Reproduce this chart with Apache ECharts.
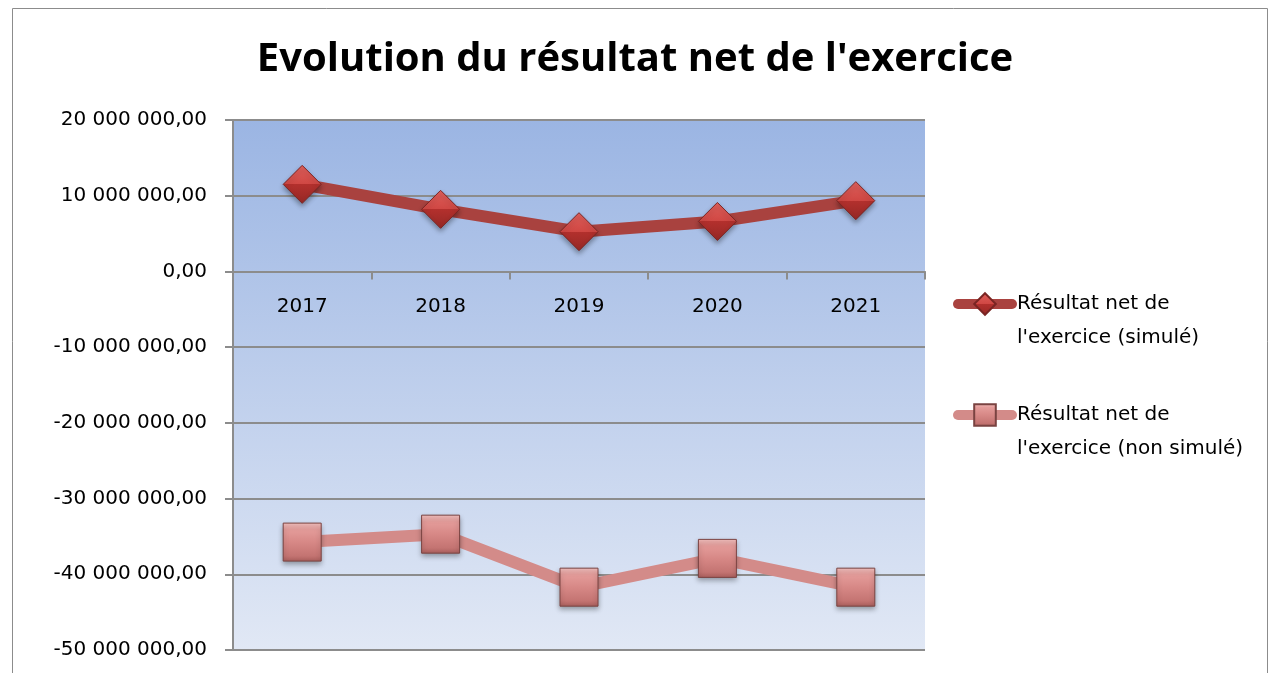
<!DOCTYPE html>
<html>
<head>
<meta charset="utf-8">
<script src="https://cdn.jsdelivr.net/npm/echarts@6/dist/echarts.min.js"></script>
<style>
  html, body { margin: 0; padding: 0; background: #fff; }
  #chart { width: 1270px; height: 673px; }
</style>
</head>
<body>
<div id="chart"></div>
<script>
  const years = ['2017', '2018', '2019', '2020', '2021']
  const simule = [11500000, 8200000, 5250000, 6600000, 9350000]
  const nonSimule = [-35750000, -34700000, -41700000, -37900000, -41700000]
  const seriesNames = ["Résultat net de l'exercice (simulé)", "Résultat net de l'exercice (non simulé)"]
  const yMin = -50000000
  const yMax = 20000000
  const yStep = 10000000

  const labelFont = 'DejaVu Sans'
  const titleFont = 'Open Sans'

  // format 10000000 -> "10 000 000,00"
  const fmt = (v) => {
    const neg = v < 0
    const s = String(Math.abs(v)).replace(/\B(?=(\d{3})+(?!\d))/g, ' ')
    return (neg ? '-' : '') + s + ',00'
  }

  const gridTop = 120
  const gridBottom = 23
  const gridHeight = 673 - gridTop - gridBottom
  // the category axis sits on the zero line
  const zeroOffset = -gridHeight * (0 - yMin) / (yMax - yMin)

  const diamondColor = new echarts.graphic.LinearGradient(0, 0, 0, 1, [
    { offset: 0, color: '#e0605c' },
    { offset: 0.5, color: '#cf4743' },
    { offset: 0.5, color: '#b3302d' },
    { offset: 1, color: '#952825' },
  ])
  const squareColor = new echarts.graphic.LinearGradient(0, 0, 0, 1, [
    { offset: 0, color: '#f6c3c1' },
    { offset: 0.18, color: '#e49c9a' },
    { offset: 0.5, color: '#d78886' },
    { offset: 0.85, color: '#c47472' },
    { offset: 1, color: '#a95e5c' },
  ])

  const chart = echarts.init(document.getElementById('chart'))
  chart.setOption({
    animation: false,
    title: {
      text: "Evolution du résultat net de l'exercice",
      left: 'center',
      top: 35,
      textStyle: { fontFamily: titleFont, fontSize: 40, fontWeight: 'bold', color: '#000' },
    },
    graphic: [
      {
        type: 'rect',
        shape: { x: 12.5, y: 8.5, width: 1255, height: 700 },
        style: { fill: 'none', stroke: '#8c8c8c', lineWidth: 1 },
        silent: true,
        z: -1,
      },
    ],
    grid: {
      left: 233,
      right: 345,
      top: gridTop,
      bottom: gridBottom,
      outerBoundsMode: 'none',
      containLabel: false,
      show: true,
      borderWidth: 0,
      backgroundColor: new echarts.graphic.LinearGradient(0, 0, 0, 1, [
        { offset: 0, color: '#9bb5e3' },
        { offset: 1, color: '#e1e8f5' },
      ]),
    },
    legend: {
      orient: 'vertical',
      left: 948,
      top: 248,
      itemWidth: 54,
      itemHeight: 27,
      itemGap: 9,
      data: [
        { name: seriesNames[0], lineStyle: { width: 10, cap: 'round' } },
        { name: seriesNames[1], lineStyle: { width: 10, cap: 'round' } },
      ],
      // leading empty line keeps the icon level with the first text line
      formatter: (name) => '\n' + name.replace("de l'", "de\nl'"),
      textStyle: {
        fontFamily: labelFont,
        fontSize: 20,
        color: '#000',
        lineHeight: 34,
        padding: [0, 0, 0, 0],
      },
    },
    xAxis: {
      type: 'category',
      data: years,
      boundaryGap: true,
      position: 'bottom',
      offset: zeroOffset,
      axisLine: { onZero: false, lineStyle: { color: '#8c8c8c', width: 2 } },
      axisTick: { show: true, length: 8, interval: 0, lineStyle: { color: '#8c8c8c', width: 2 } },
      axisLabel: { fontFamily: labelFont, fontSize: 20, color: '#000', margin: 25 },
    },
    yAxis: {
      type: 'value',
      min: yMin,
      max: yMax,
      interval: yStep,
      axisLine: { show: true, lineStyle: { color: '#8c8c8c', width: 2 } },
      axisTick: { show: true, length: 8, lineStyle: { color: '#8c8c8c', width: 2 } },
      splitLine: { lineStyle: { color: '#8c8c8c', width: 2 } },
      axisLabel: { fontFamily: labelFont, fontSize: 20, color: '#000', margin: 26, formatter: fmt },
    },
    series: [
      {
        name: seriesNames[0],
        type: 'line',
        data: simule,
        symbol: 'diamond',
        symbolSize: 38,
        lineStyle: { color: '#a9423f', width: 12 },
        itemStyle: {
          color: diamondColor,
          borderColor: '#7a2523',
          borderWidth: 1,
          shadowColor: 'rgba(0,0,0,0.35)',
          shadowBlur: 5,
          shadowOffsetY: 3,
        },
        z: 3,
      },
      {
        name: seriesNames[1],
        type: 'line',
        data: nonSimule,
        symbol: 'rect',
        symbolSize: 38,
        lineStyle: { color: '#d38b89', width: 12 },
        itemStyle: {
          color: squareColor,
          borderColor: '#7a4341',
          borderWidth: 1,
          shadowColor: 'rgba(0,0,0,0.35)',
          shadowBlur: 5,
          shadowOffsetY: 3,
        },
        z: 2,
      },
    ],
  })
</script>
</body>
</html>
